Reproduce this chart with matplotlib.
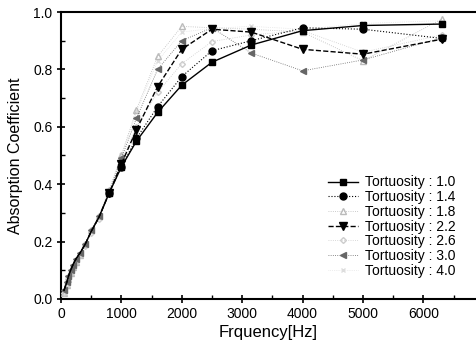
import numpy as np
import matplotlib
matplotlib.use("Agg")
import matplotlib.pyplot as plt

plt.rcParams['font.family'] = ['Liberation Sans', 'DejaVu Sans']

freq = [50, 100, 125, 160, 200, 250, 315, 400, 500, 630, 800, 1000,
        1250, 1600, 2000, 2500, 3150, 4000, 5000, 6300]

t10 = [0.03, 0.06, 0.08, 0.10, 0.12, 0.14, 0.16, 0.19, 0.235, 0.285, 0.37, 0.46,
       0.55, 0.65, 0.745, 0.825, 0.885, 0.935, 0.953, 0.958]
t14 = [0.03, 0.06, 0.08, 0.10, 0.12, 0.14, 0.16, 0.19, 0.235, 0.285, 0.37, 0.46,
       0.56, 0.67, 0.775, 0.865, 0.90, 0.945, 0.94, 0.908]
t18 = [0.02, 0.05, 0.07, 0.09, 0.11, 0.13, 0.155, 0.19, 0.24, 0.29, 0.38, 0.50,
       0.66, 0.845, 0.95, 0.945, 0.94, 0.93, 0.83, 0.975]
t22 = [0.03, 0.06, 0.08, 0.10, 0.12, 0.14, 0.16, 0.19, 0.235, 0.285, 0.37, 0.47,
       0.59, 0.74, 0.87, 0.94, 0.93, 0.87, 0.853, 0.905]
t26 = [0.02, 0.05, 0.07, 0.09, 0.11, 0.13, 0.155, 0.185, 0.23, 0.28, 0.37, 0.48,
       0.60, 0.72, 0.82, 0.897, 0.92, 0.935, 0.86, 0.92]
t30 = [0.03, 0.06, 0.08, 0.10, 0.12, 0.14, 0.16, 0.19, 0.24, 0.29, 0.37, 0.49,
       0.63, 0.80, 0.90, 0.945, 0.857, 0.795, 0.833, 0.91]
t40 = [0.02, 0.05, 0.07, 0.09, 0.11, 0.13, 0.155, 0.19, 0.24, 0.29, 0.38, 0.50,
       0.65, 0.83, 0.93, 0.943, 0.95, 0.94, 0.96, 0.97]

labels = ["Tortuosity : 1.0", "Tortuosity : 1.4", "Tortuosity : 1.8", "Tortuosity : 2.2",
          "Tortuosity : 2.6", "Tortuosity : 3.0", "Tortuosity : 4.0"]


def plot_absorption():
    fig = plt.figure(figsize=(4.76, 3.49), dpi=100)
    ax = fig.add_axes([0.128, 0.1433, 0.872, 0.8223])

    # scan only shows the black markers clearly from ~800 Hz up
    hi = list(range(10, len(freq)))
    ax.plot(freq, t10, color="k", linestyle="-", linewidth=1.0, marker="s", markersize=5,
            markevery=hi, label=labels[0], zorder=5)
    ax.plot(freq, t14, color="k", linestyle=":", linewidth=0.8, marker="o", markersize=5,
            markevery=hi, label=labels[1], zorder=5)
    ax.plot(freq, t18, color="#bbbbbb", linestyle=":", linewidth=0.6, marker="^", markersize=4,
            markerfacecolor="none", label=labels[2], zorder=3)
    ax.plot(freq, t22, color="k", linestyle="--", linewidth=1.0, marker="v", markersize=6,
            markevery=hi, label=labels[3], zorder=5)
    ax.plot(freq, t26, color="#cccccc", linestyle=":", linewidth=0.6, marker="D", markersize=3,
            markerfacecolor="none", label=labels[4], zorder=3)
    ax.plot(freq, t30, color="#666666", linestyle=":", linewidth=0.6, marker="<", markersize=4,
            label=labels[5], zorder=4)
    ax.plot(freq, t40, color="#dddddd", linestyle=":", linewidth=0.5, marker="x", markersize=3,
            label=labels[6], zorder=2)

    ax.set_xlim(0, 6870)
    ax.set_ylim(0, 1.0)
    ax.set_xticks([0, 1000, 2000, 3000, 4000, 5000, 6000])
    ax.set_xticks(np.arange(500, 6870, 1000), minor=True)
    ax.set_yticks([0.0, 0.2, 0.4, 0.6, 0.8, 1.0])
    ax.set_yticks([0.1, 0.3, 0.5, 0.7, 0.9], minor=True)
    ax.set_yticklabels(["0.0", "0.2", "0.4", "0.6", "0.8", "1.0"])
    ax.tick_params(which="major", direction="inout", length=6, width=1.2, labelsize=10, pad=3)
    ax.tick_params(which="minor", direction="in", length=3, width=1.0)
    ax.spines["right"].set_visible(False)
    for s in ["left", "bottom", "top"]:
        ax.spines[s].set_linewidth(1.5)

    ax.set_xlabel("Frquency[Hz]", fontsize=12, labelpad=3)
    ax.set_ylabel("Absorption Coefficient", fontsize=11.5, labelpad=7)

    ax.legend(loc="lower right", bbox_to_anchor=(0.965, 0.055), frameon=False, fontsize=10,
              handlelength=2.2, labelspacing=0.05, handletextpad=0.5, borderaxespad=0.0)

    fig.savefig("out.png", dpi=100)


if __name__ == "__main__":
    plot_absorption()
